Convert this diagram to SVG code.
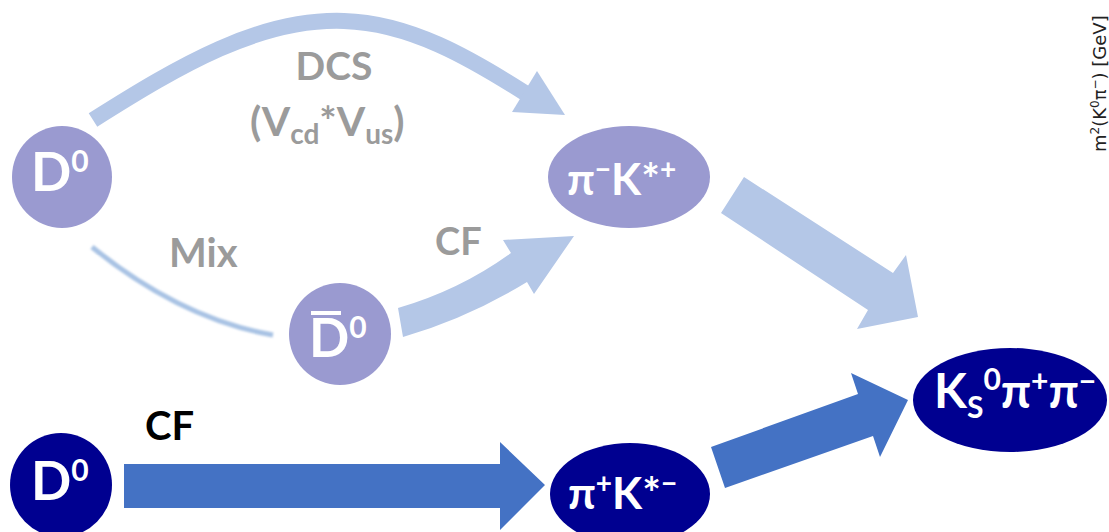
<svg xmlns="http://www.w3.org/2000/svg" width="1109" height="532" viewBox="0 0 1109 532">
<defs>
<style>
.n1{fill:#9A9AD0}
.n2{fill:#000090}
.lbl{font-family:Lato,"Open Sans",sans-serif;font-weight:bold;fill:#fff}
.g{font-family:Lato,"Open Sans",sans-serif;font-weight:bold;fill:#9B9B9B}
.la{fill:#B4C7E7}
.da{fill:#4472C4}
</style>
<filter id="soft" x="-20%" y="-20%" width="140%" height="140%">
<feGaussianBlur stdDeviation="1.3"/>
</filter>
</defs>
<rect width="1109" height="532" fill="#fff"/>
<g id="connectors">
<path d="M93,120 C180,65 260,18 344,21 C410,23 470,58 525,93" fill="none" stroke="#B4C7E7" stroke-width="16"/>
<polygon class="la" points="512,112 537,71 565,115"/>
<path d="M92,247 Q181,319 273,335" fill="none" stroke="#A9C3E4" stroke-width="5" filter="url(#soft)"/>
<path d="M398,308 Q460,290 511,253 L503,240 L574,236 L534,294 L527,282 Q468,318 403,337 Z" class="la"/>
<polygon class="la" points="744,177 893,273 906,255 918,317 857,329 868,310 721,213"/>
<polygon class="da" points="711,447 858,394 851,373 908,400 880,457 873,436 725,488"/>
<polygon class="da" points="124,464 500,464 500,442 545,485 500,530 500,508 124,508"/>
</g>
<g id="labels">
<text class="g" x="334" y="80" font-size="39" text-anchor="middle">DCS</text>
<text class="g" x="250" y="136" font-size="41">(V<tspan font-size="28" dy="8">cd</tspan><tspan dy="-8">*V</tspan><tspan font-size="28" dy="8">us</tspan><tspan dy="-8">)</tspan></text>
<text class="g" x="169" y="267" font-size="40">Mix</text>
<text class="g" x="435" y="255" font-size="38">CF</text>
<text x="145" y="440" font-size="40" font-family="Lato,'Open Sans',sans-serif" font-weight="bold" fill="#000">CF</text>
<text x="1106" y="152" transform="rotate(-90 1106 152)" font-size="18" font-family="'DejaVu Sans',sans-serif" fill="#222">m<tspan font-size="12" dy="-7">2</tspan><tspan dy="7">(K</tspan><tspan font-size="12" dy="-7">0</tspan><tspan dy="7">π</tspan><tspan font-size="12" dy="-7">−</tspan><tspan dy="7">) [GeV]</tspan></text>
</g>
<g id="D0_top">
<ellipse class="n1" cx="62" cy="177" rx="50" ry="51"/>
<text class="lbl" x="31" y="191" font-size="53">D<tspan font-size="30" dy="-19">0</tspan></text>
</g>
<g id="D0bar">
<ellipse class="n1" cx="340" cy="334" rx="51" ry="51"/>
<text class="lbl" x="309" y="357" font-size="53">D<tspan font-size="30" dy="-19">0</tspan></text>
<rect x="311" y="311" width="30" height="4" fill="#fff"/>
</g>
<g id="piKstarplus">
<ellipse class="n1" cx="629" cy="177" rx="81" ry="51"/>
<text class="lbl" x="567" y="195" font-size="44">π<tspan font-size="28" dy="-16">−</tspan><tspan dy="16">K*</tspan><tspan font-size="28" dy="-16">+</tspan></text>
</g>
<g id="KSpipi">
<ellipse class="n2" cx="1010" cy="400" rx="97" ry="52"/>
<text class="lbl" x="934" y="408" font-size="48">K<tspan font-size="30" dy="10">S</tspan><tspan font-size="30" dy="-28">0</tspan><tspan dy="18">π</tspan><tspan font-size="30" dy="-16">+</tspan><tspan dy="16">π</tspan><tspan font-size="30" dy="-16">−</tspan></text>
</g>
<g id="piKstarminus">
<ellipse class="n2" cx="630" cy="494" rx="80" ry="51"/>
<text class="lbl" x="568" y="509" font-size="44">π<tspan font-size="28" dy="-16">+</tspan><tspan dy="16">K*</tspan><tspan font-size="28" dy="-16">−</tspan></text>
</g>
<g id="D0_bottom">
<ellipse class="n2" cx="61" cy="485" rx="51" ry="52"/>
<text class="lbl" x="31" y="500" font-size="53">D<tspan font-size="30" dy="-19">0</tspan></text>
</g>
</svg>
